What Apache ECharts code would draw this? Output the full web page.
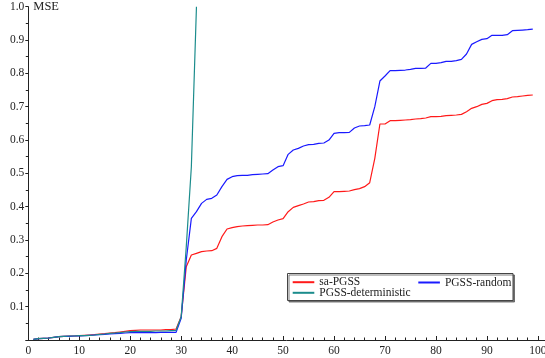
<!DOCTYPE html>
<html>
<head>
<meta charset="utf-8">
<script src="https://cdn.jsdelivr.net/npm/echarts@6/dist/echarts.min.js"></script>
<style>
  html, body { margin: 0; padding: 0; background: #fff; }
  #chart { width: 545px; height: 358px; }
</style>
</head>
<body>
<div id="chart"></div>
<script>
// Iteration numbers along the horizontal axis
const iterations = [
  1,2,3,4,5,6,7,8,9,10,11,12,13,14,15,16,17,18,19,20,
  21,22,23,24,25,26,27,28,29,30,31,32,33,34,35,36,37,38,39,40,
  41,42,43,44,45,46,47,48,49,50,51,52,53,54,55,56,57,58,59,60,
  61,62,63,64,65,66,67,68,69,70,71,72,73,74,75,76,77,78,79,80,
  81,82,83,84,85,86,87,88,89,90,91,92,93,94,95,96,97,98,99
];

// MSE per iteration, sa-PGSS
const saPGSS = [
  0.002,0.004,0.005,0.006,0.008,0.010,0.011,0.012,0.012,0.013,
  0.014,0.015,0.016,0.018,0.019,0.021,0.022,0.024,0.026,0.028,
  0.029,0.030,0.030,0.030,0.030,0.030,0.031,0.031,0.033,0.070,
  0.220,0.255,0.260,0.265,0.267,0.268,0.275,0.310,0.333,0.337,
  0.340,0.342,0.343,0.344,0.345,0.345,0.346,0.354,0.360,0.364,
  0.385,0.398,0.403,0.408,0.414,0.415,0.418,0.419,0.428,0.445,
  0.445,0.446,0.447,0.451,0.454,0.460,0.472,0.545,0.648,0.648,
  0.658,0.658,0.659,0.660,0.661,0.663,0.664,0.666,0.670,0.670,
  0.671,0.673,0.674,0.675,0.677,0.685,0.695,0.700,0.707,0.710,
  0.718,0.721,0.722,0.724,0.729,0.730,0.732,0.734,0.735
];

// MSE per iteration, PGSS-random
const pgssRandom = [
  0.002,0.004,0.005,0.006,0.008,0.010,0.011,0.011,0.012,0.012,
  0.013,0.014,0.015,0.016,0.017,0.018,0.019,0.020,0.021,0.022,
  0.022,0.022,0.022,0.022,0.022,0.023,0.023,0.023,0.023,0.065,
  0.240,0.365,0.385,0.410,0.422,0.425,0.435,0.460,0.482,0.490,
  0.493,0.494,0.494,0.496,0.497,0.498,0.499,0.510,0.520,0.523,
  0.557,0.570,0.575,0.582,0.586,0.587,0.590,0.591,0.600,0.620,
  0.622,0.622,0.623,0.636,0.642,0.643,0.645,0.700,0.777,0.792,
  0.808,0.808,0.809,0.810,0.812,0.815,0.815,0.816,0.830,0.830,
  0.832,0.836,0.836,0.838,0.842,0.858,0.887,0.895,0.902,0.904,
  0.914,0.914,0.914,0.916,0.928,0.929,0.930,0.931,0.933
];

// MSE per iteration, PGSS-deterministic (diverges after iteration 33)
const pgssDeterministic = [
  0.002,0.004,0.005,0.006,0.008,0.010,0.011,0.012,0.012,0.013,
  0.013,0.014,0.015,0.017,0.018,0.020,0.021,0.022,0.024,0.025,
  0.026,0.026,0.026,0.026,0.027,0.027,0.027,0.028,0.029,0.070,
  0.280,0.520,1.000
];

const xTickLabels = ['0','10','20','30','40','50','60','70','80','90','100'];
const yTickLabels = ['0.1','0.2','0.3','0.4','0.5','0.6','0.7','0.8','0.9','1.0'];

const pairs = (vals) => vals.map((v, i) => [iterations[i], v]);

const FONT = '"Liberation Serif", "DejaVu Serif", serif';
const INK = '#222';

const chart = echarts.init(document.getElementById('chart'), null, { renderer: 'canvas' });

const legendBase = {
  orient: 'vertical',
  padding: 0,
  itemWidth: 21.6,
  itemHeight: 10,
  itemGap: 0,
  itemStyle: { opacity: 0 },
  textStyle: { fontFamily: FONT, fontSize: 11.5, color: INK, lineHeight: 12 },
  selectedMode: false
};

chart.setOption({
  animation: false,
  backgroundColor: '#fff',
  grid: {
    left: 28.3, right: 0, top: 6.7, bottom: 18,
    containLabel: false,
    outerBoundsMode: 'none'
  },
  xAxis: {
    type: 'value',
    min: 0,
    max: 101.4,
    interval: 10,
    axisLine: { show: true, lineStyle: { color: INK, width: 1 } },
    axisTick: { show: true, inside: true, length: 4, lineStyle: { color: INK } },
    minorTick: { show: true, splitNumber: 5, length: 2.5, lineStyle: { color: INK } },
    splitLine: { show: false },
    axisLabel: {
      fontFamily: FONT, fontSize: 11.5, color: INK, margin: 5,
      showMaxLabel: false,
      formatter: (v) => xTickLabels.includes(String(v)) ? String(v) : ''
    }
  },
  yAxis: {
    type: 'value',
    min: 0,
    max: 1,
    interval: 0.1,
    name: 'MSE',
    nameLocation: 'end',
    nameGap: 0,
    nameTextStyle: {
      fontFamily: FONT, fontSize: 12.5, color: INK,
      align: 'left', verticalAlign: 'middle', padding: [0, 0, 0, 5]
    },
    axisLine: { show: true, lineStyle: { color: INK, width: 1 } },
    axisTick: { show: true, inside: false, length: 3, lineStyle: { color: INK } },
    minorTick: { show: true, splitNumber: 2, length: 2.5, lineStyle: { color: INK } },
    splitLine: { show: false },
    axisLabel: {
      fontFamily: FONT, fontSize: 11.5, color: INK, margin: 4,
      formatter: (v) => {
        const s = v.toFixed(1);
        return yTickLabels.includes(s) ? s : '';
      }
    }
  },
  graphic: [{
    type: 'rect',
    shape: { x: 287.5, y: 273.5, width: 225.5, height: 27 },
    style: {
      fill: '#fff', stroke: '#444', lineWidth: 1,
      shadowColor: 'rgba(90,90,90,0.8)', shadowOffsetX: 1.5, shadowOffsetY: 1.5, shadowBlur: 0
    },
    z: 5
  }],
  legend: [
    Object.assign({}, legendBase, { data: ['sa-PGSS'], left: 291.7, top: 276.2, z: 10 }),
    Object.assign({}, legendBase, { data: ['PGSS-deterministic'], left: 291.7, top: 286.8, z: 10 }),
    Object.assign({}, legendBase, { data: ['PGSS-random'], left: 417.3, top: 276.5, z: 10 })
  ],
  series: [
    {
      name: 'sa-PGSS', type: 'line', symbol: 'none', clip: true,
      data: pairs(saPGSS),
      itemStyle: { color: '#ff1a1a' },
      lineStyle: { color: '#ff1a1a', width: 1.2 }
    },
    {
      name: 'PGSS-random', type: 'line', symbol: 'none', clip: true,
      data: pairs(pgssRandom),
      itemStyle: { color: '#1a1aff' },
      lineStyle: { color: '#1a1aff', width: 1.2 }
    },
    {
      name: 'PGSS-deterministic', type: 'line', symbol: 'none', clip: true,
      data: pairs(pgssDeterministic),
      itemStyle: { color: '#1b8c8c' },
      lineStyle: { color: '#1b8c8c', width: 1.2 }
    }
  ]
});
</script>
</body>
</html>
